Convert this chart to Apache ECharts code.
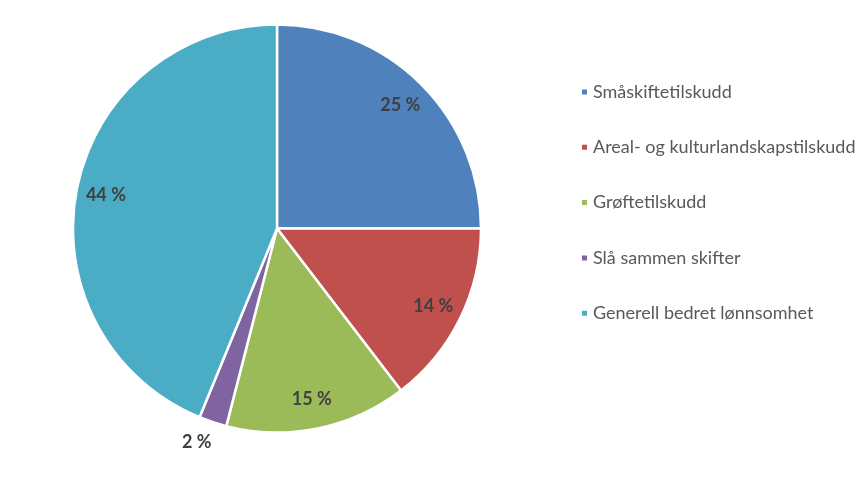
<!DOCTYPE html>
<html><head><meta charset="utf-8">
<script src="https://cdn.jsdelivr.net/npm/echarts@6/dist/echarts.min.js"></script>
<style>html,body{margin:0;padding:0;background:#fff}#c{width:867px;height:479px}</style>
</head><body><div id="c"></div>
<script>
const categories = ['Småskiftetilskudd','Areal- og kulturlandskapstilskudd','Grøftetilskudd','Slå sammen skifter','Generell bedret lønnsomhet'];
const values = [25, 14.6, 14.4, 2.2, 43.8];
const labelText = ['25 %','14 %','15 %','2 %','44 %'];
const colors = ['#4F81BD','#C0504D','#9BBB59','#8064A2','#4BACC6'];
const outsideLabel = [false, false, false, true, false];

const R = 204;
const center = [277, 228.5];
const labelStyle = {color:'#404040', fontSize:18, fontWeight:'bold', fontFamily:'Lato'};

const chart = echarts.init(document.getElementById('c'));
chart.setOption({
  animation:false,
  color: colors,
  legend:{
    orient:'vertical', left:580, top:83, padding:0, itemWidth:7, itemHeight:7, itemGap:37.3,
    icon:'rect',
    data: categories,
    textStyle:{color:'#595959', fontSize:18, fontFamily:'Lato'}
  },
  series:[
    {
      type:'pie', center:center, radius:[0,R], startAngle:90, clockwise:true,
      label:{show:false}, labelLine:{show:false},
      itemStyle:{borderColor:'#fff', borderWidth:2.5},
      data: categories.map((n,i)=>({name:n, value:values[i]}))
    },
    {
      type:'pie', center:center, radius:[R*0.68,R], startAngle:90, clockwise:true, silent:true,
      itemStyle:{color:'transparent'}, labelLine:{show:false},
      label:Object.assign({position:'inside'}, labelStyle),
      data: categories.map((n,i)=>({name:n, value:values[i], label:{show:!outsideLabel[i], formatter:labelText[i]}}))
    },
    {
      type:'pie', center:center, radius:[R,R*1.22], startAngle:90, clockwise:true, silent:true,
      itemStyle:{color:'transparent'}, labelLine:{show:false},
      label:Object.assign({position:'inside', offset:[-8,-4]}, labelStyle),
      data: categories.map((n,i)=>({name:n, value:values[i], label:{show:outsideLabel[i], formatter:labelText[i]}}))
    }
  ]
});
</script></body></html>
